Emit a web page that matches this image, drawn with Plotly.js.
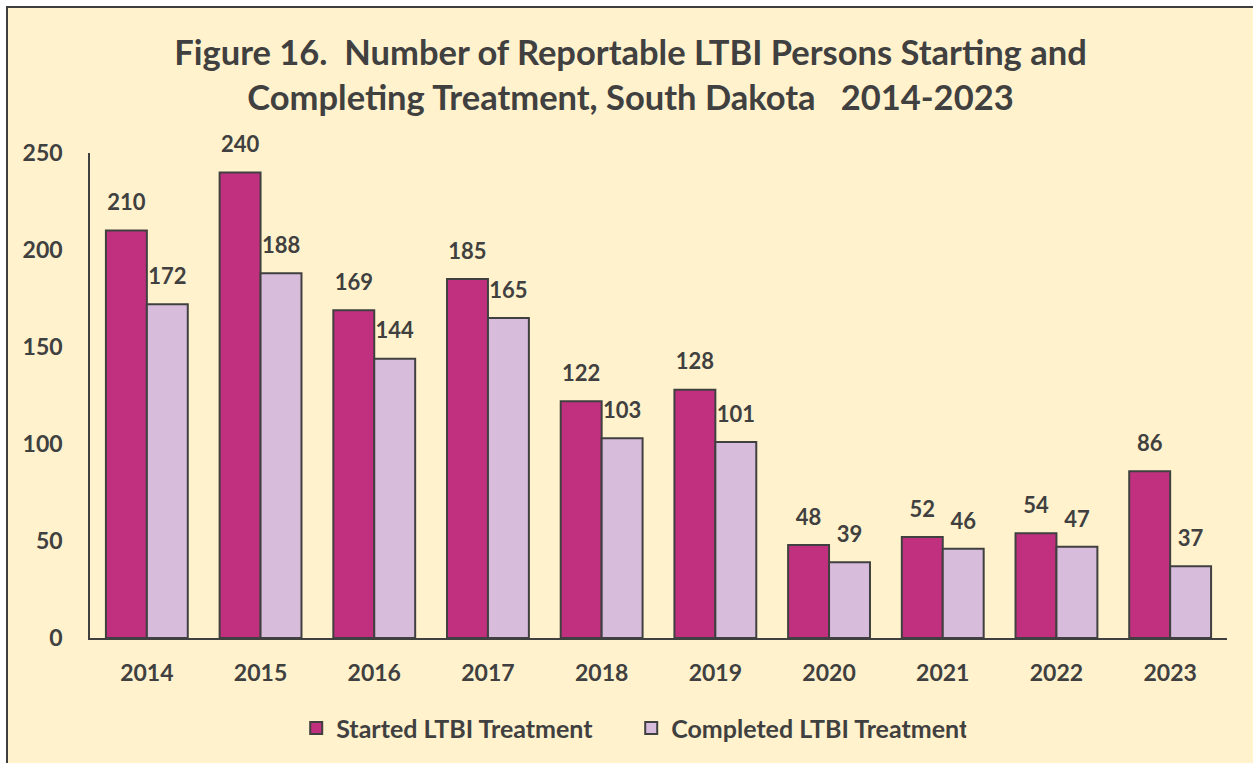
<!DOCTYPE html>
<html>
<head>
<meta charset="utf-8">
<script src="https://cdn.plot.ly/plotly-3.0.1.min.js"></script>
<style>
  html, body { margin: 0; padding: 0; background: #ffffff; overflow: hidden; }
  #frame { position: absolute; left: 6px; top: 6px; width: 1253px; height: 763px;
           border: 2px solid #3f3f3f; background: #FFF2CC; }
  #chart { position: absolute; left: 0; top: 0; width: 1245px; height: 755px; }
</style>
</head>
<body>
<div id="frame"><div id="chart"></div></div>
<script>
const years = ['2014','2015','2016','2017','2018','2019','2020','2021','2022','2023'];
const started = [210, 240, 169, 185, 122, 128, 48, 52, 54, 86];
const completed = [172, 188, 144, 165, 103, 101, 39, 46, 47, 37];
const seriesNames = ['Started LTBI Treatment', 'Completed LTBI Treatment'];
const yTicks = [0, 50, 100, 150, 200, 250];

const textColor = '#404040';
const fontFam = 'Lato, "Open Sans", sans-serif';
const labelFont = { family: fontFam, size: 22, color: textColor, weight: 'bold' };

function labelTrace(vals) {
  return { type: 'scatter', mode: 'markers+text', x: years, y: vals, text: vals.map(String),
           textposition: 'top center', textfont: labelFont, cliponaxis: false,
           marker: { size: 22, color: 'rgba(0,0,0,0)', line: { width: 0 } },
           showlegend: false, hoverinfo: 'skip' };
}

const traces = [
  { type: 'bar', name: seriesNames[0], x: years, y: started,
    marker: { color: '#C0307F', line: { color: '#404040', width: 2 } },
    hoverinfo: 'x+y' },
  { type: 'bar', name: seriesNames[1], x: years, y: completed,
    marker: { color: '#D8BCDC', line: { color: '#404040', width: 2 } },
    hoverinfo: 'x+y' },
  labelTrace(started),
  labelTrace(completed)
];

const layout = {
  width: 1245, height: 755,
  paper_bgcolor: '#FFF2CC', plot_bgcolor: 'rgba(0,0,0,0)',
  margin: { l: 82, r: 26, t: 145, b: 125 },
  font: { family: fontFam, color: textColor },
  title: {
    text: 'Figure 16.  Number of Reportable LTBI Persons Starting and<br>Completing Treatment, South Dakota   2014-2023',
    font: { family: fontFam, size: 34.5, color: textColor, weight: 'bold' },
    x: 0.5, xanchor: 'center', xref: 'container',
    y: 0.924, yanchor: 'top', yref: 'container'
  },
  barmode: 'group', bargap: 0.28, bargroupgap: 0,
  scattermode: 'group', scattergap: 0.28,
  showlegend: true,
  legend: { orientation: 'h', x: 0.476, xanchor: 'center', y: -0.186, yanchor: 'middle',
            font: { family: fontFam, size: 25, color: textColor, weight: 'bold' },
            bgcolor: 'rgba(0,0,0,0)', itemwidth: 30, tracegroupgap: 0, entrywidth: 290 },
  xaxis: { type: 'category', showline: true, linecolor: '#404040', linewidth: 1.5,
           ticks: '', showgrid: false, zeroline: false,
           tickfont: { family: fontFam, size: 23, color: textColor, weight: 'bold' },
           ticklabelstandoff: 14 },
  yaxis: { range: [0, 250], tickvals: yTicks, showline: true, linecolor: '#404040', linewidth: 1.5,
           ticks: '', showgrid: false, zeroline: false,
           tickfont: { family: fontFam, size: 23, color: textColor, weight: 'bold' },
           ticklabelstandoff: 21 }
};

Plotly.newPlot('chart', traces, layout, { displayModeBar: false, responsive: false });
</script>
</body>
</html>
